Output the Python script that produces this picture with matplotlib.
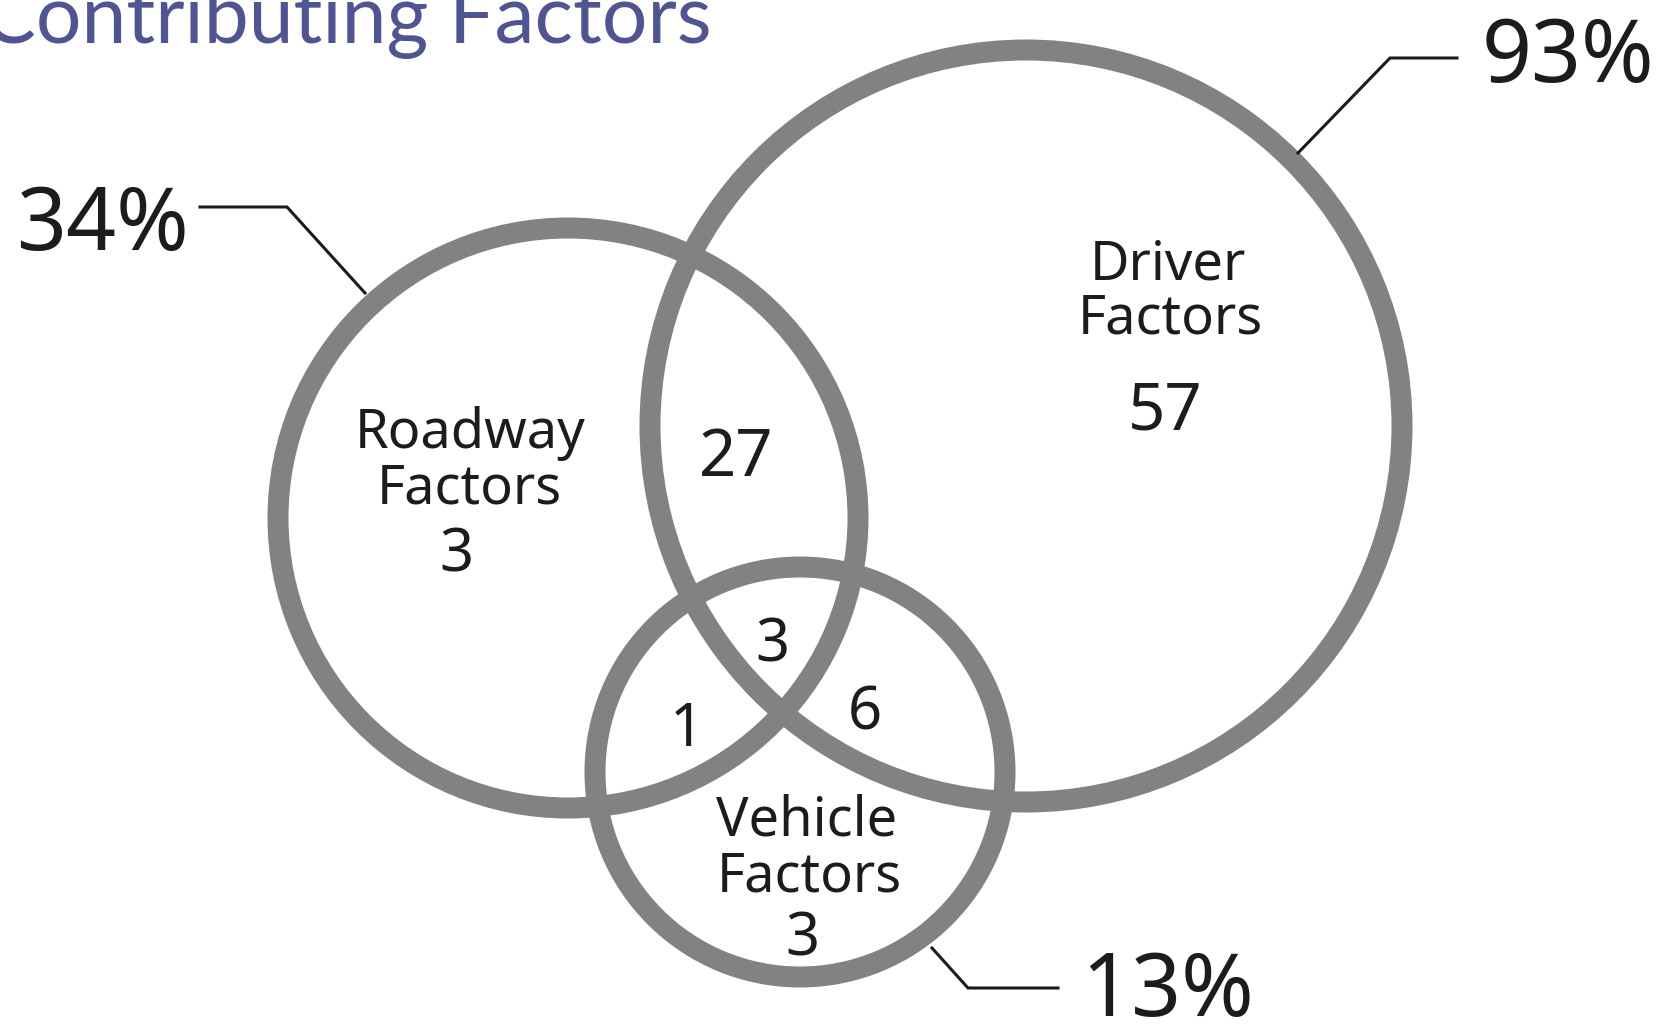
import matplotlib
matplotlib.use("Agg")
import matplotlib.pyplot as plt
from matplotlib.patches import Circle

# ---- data ----
set_names = ["Roadway\nFactors", "Driver\nFactors", "Vehicle\nFactors"]
set_percent = [34, 93, 13]
only_counts = [3, 57, 3]          # roadway only, driver only, vehicle only
roadway_driver = 27
roadway_vehicle = 1
driver_vehicle = 6
all_three = 3
title = "Contributing Factors"

# ---- layout (pixel coords, y down) ----
W, H = 1671, 1031
fig = plt.figure(figsize=(W / 100, H / 100), dpi=100)
ax = fig.add_axes([0, 0, 1, 1])
ax.set_xlim(0, W)
ax.set_ylim(H, 0)
ax.set_aspect("equal")
ax.axis("off")

FONT = "Noto Sans"
TXT = "#1c1c1c"
GRAY = "#828282"
LW = 21 * 72 / 100

circles = [((568, 518), 290), ((1026, 426), 376), ((800, 772), 205)]
for (c, r) in circles:
    ax.add_patch(Circle(c, r, fill=False, edgecolor=GRAY, linewidth=LW))

def label(x, y, s, size):
    ax.text(x, y, s, ha="center", va="baseline", fontsize=size, color=TXT,
            family=FONT)

# set labels (two lines each) + exclusive counts
name_pos = [((470, 448), (469, 504), (456, 572)),
            ((1168, 279), (1170, 333), (1165, 430)),
            ((807, 835), (809, 892), (802, 955))]
count_sizes = [43, 47, 43]
for name, cnt, pos, cs in zip(set_names, only_counts, name_pos, count_sizes):
    l1, l2 = name.split("\n")
    label(*pos[0], l1, 39)
    label(*pos[1], l2, 39)
    label(*pos[2], str(cnt), cs)

# intersections
label(736, 476, str(roadway_driver), 47)
label(772, 661, str(all_three), 43)
label(687, 746, str(roadway_vehicle), 43)
label(865, 729, str(driver_vehicle), 43)

# percentages with leader lines
pct_pos = [(102, 250), (1568, 82), (1168, 1016)]
leaders = [([200, 287, 365], [207, 207, 293]),
           ([1457, 1390, 1298], [58, 58, 153]),
           ([932, 968, 1058], [948, 988, 988])]
for p, (x, y), (lx, ly) in zip(set_percent, pct_pos, leaders):
    ax.text(x, y, f"{p}%", ha="center", va="baseline", fontsize=63,
            color=TXT, family=FONT)
    ax.plot(lx, ly, color=TXT, linewidth=2.2, solid_joinstyle="miter")

# title (clipped at the top-left, as in the reference)
ax.text(712, 43, title, ha="right", va="baseline", fontsize=58,
        color="#4F5591", family="Lato")

fig.savefig("out.png", dpi=100, facecolor="white")
